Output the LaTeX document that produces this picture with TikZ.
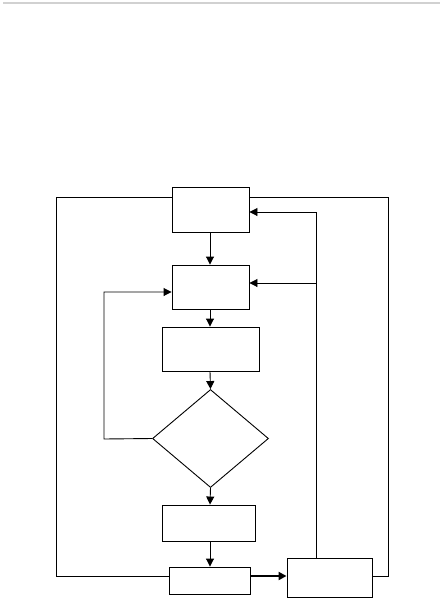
\documentclass[tikz,border=0pt]{standalone}
\usetikzlibrary{shapes.geometric,arrows.meta}
\begin{document}
\begin{tikzpicture}[x=1pt,y=-1pt,
  box/.style={draw,line width=0.9pt,rectangle,inner sep=0pt},
  dia/.style={draw,line width=0.9pt,diamond,inner sep=0pt},
  ln/.style={line width=0.9pt},
  arr/.style={line width=0.9pt,-{Triangle[length=8pt,width=8pt]}},
  thickarr/.style={line width=2pt,-{Triangle[length=8pt,width=8pt]}}]
\useasboundingbox (0,0) rectangle (442,598);
\draw[black!18,line width=1.6pt] (3,3) -- (440,3);
\node[box,minimum width=77pt,minimum height=45pt] (A) at (210.5,209.5) {};
\node[box,minimum width=77pt,minimum height=44pt] (B) at (210.5,287) {};
\node[box,minimum width=97pt,minimum height=44pt] (C) at (210.5,349) {};
\node[dia,minimum width=116pt,minimum height=98pt] (D) at (210.5,438.5) {};
\node[box,minimum width=93pt,minimum height=36pt] (E) at (208.5,523) {};
\node[box,minimum width=81pt,minimum height=27pt] (G) at (209.5,580.5) {};
\node[box,minimum width=85pt,minimum height=39pt] (F) at (329.5,577.5) {};
\coordinate (x0) at (210,0);
\draw[arr] (A.south -| x0) -- (B.north -| x0);
\draw[arr] (B.south -| x0) -- (C.north -| x0);
\draw[arr] (C.south -| x0) -- (D.north);
\draw[arr] (D.south) -- (E.north -| x0);
\draw[arr] (E.south -| x0) -- (G.north -| x0);
\coordinate (k1) at (104,439);
\coordinate (k2) at (104,292);
\draw[arr] (D.west) -- (k1) -- (k2) -- (B.west |- k2);
\coordinate (L1) at (56,576);
\coordinate (L2) at (56,197);
\draw[ln] (G.west |- L1) -- (L1) -- (L2) -- (A.west |- L2);
\coordinate (Q1) at (388,576);
\coordinate (Q2) at (388,197);
\draw[ln] (F.east |- Q1) -- (Q1) -- (Q2) -- (A.east |- Q2);
\coordinate (R1) at (316,212);
\coordinate (R2) at (316,283);
\draw[arr] (R1 |- F.north) -- (R1) -- (A.east |- R1);
\draw[arr] (R2) -- (B.east |- R2);
\draw[thickarr] (G.east |- L1) -- (F.west |- L1);
\end{tikzpicture}
\end{document}
